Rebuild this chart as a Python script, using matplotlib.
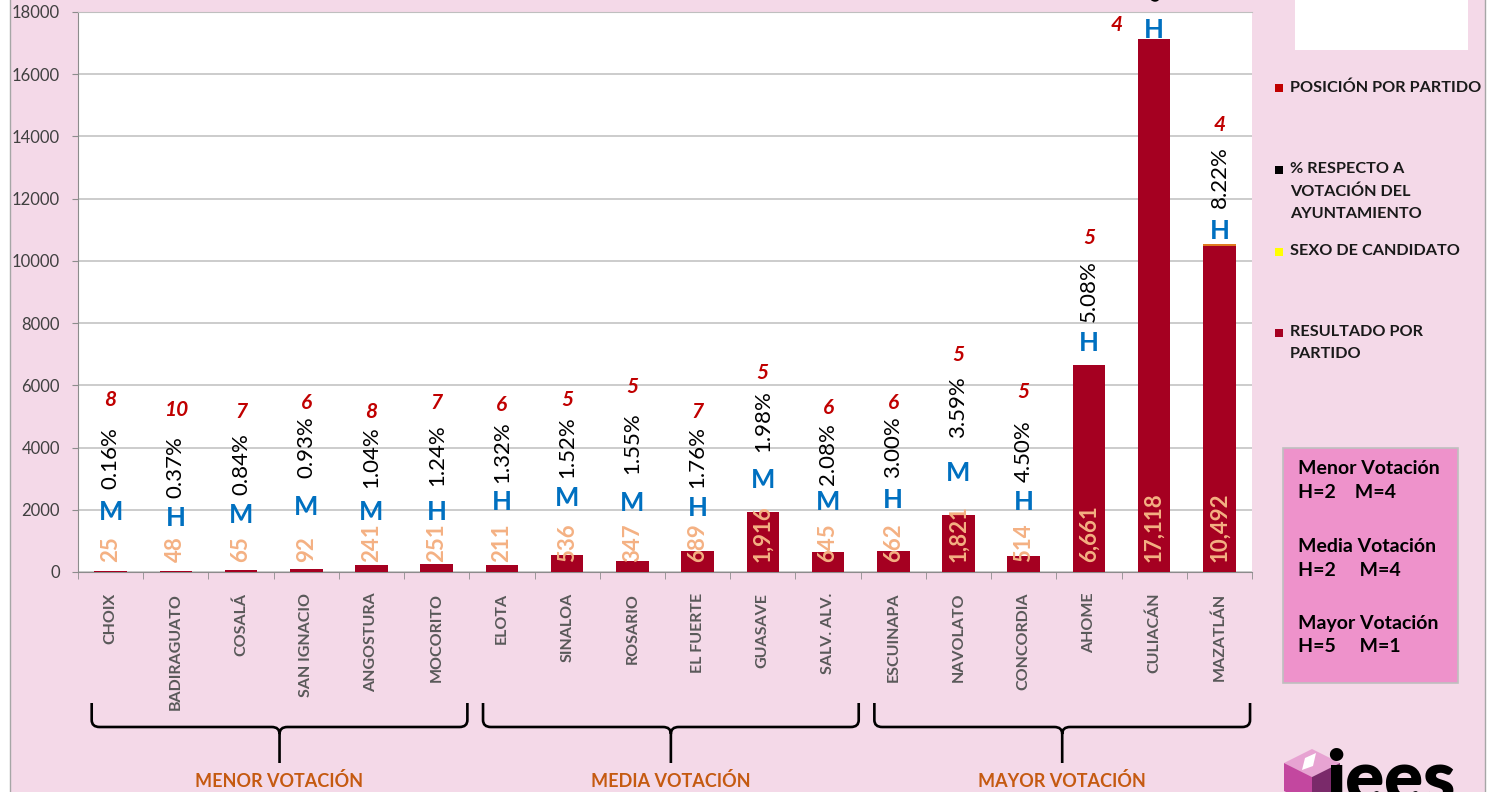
import matplotlib
matplotlib.use("Agg")
import matplotlib.pyplot as plt
from matplotlib.patches import Rectangle, Polygon, PathPatch
from matplotlib.path import Path
import matplotlib.transforms as mtransforms

plt.rcParams['font.family'] = ['Lato', 'DejaVu Sans']

# ---------------- data ----------------
municipios = ["CHOIX", "BADIRAGUATO", "COSALÁ", "SAN IGNACIO", "ANGOSTURA", "MOCORITO",
              "ELOTA", "SINALOA", "ROSARIO", "EL FUERTE", "GUASAVE", "SALV. ALV.",
              "ESCUINAPA", "NAVOLATO", "CONCORDIA", "AHOME", "CULIACÁN", "MAZATLÁN"]
resultado = [25, 48, 65, 92, 241, 251, 211, 536, 347, 689, 1916, 645,
             662, 1821, 514, 6661, 17118, 10492]
porcentaje = ["0.16%", "0.37%", "0.84%", "0.93%", "1.04%", "1.24%",
              "1.32%", "1.52%", "1.55%", "1.76%", "1.98%", "2.08%",
              "3.00%", "3.59%", "4.50%", "5.08%", "6.35%", "8.22%"]
sexo = ["M", "H", "M", "M", "M", "H",
        "H", "M", "M", "H", "M", "M",
        "H", "M", "H", "H", "H", "H"]
posicion = [8, 10, 7, 6, 8, 7, 6, 5, 5, 7, 5, 6, 6, 5, 5, 5, 4, 4]
sexo_segmento = [0, 0, 0, 0, 0, 0, 0, 0, 0, 0, 0, 0, 0, 0, 0, 0, 0, 60]

grupos = ["MENOR VOTACIÓN", "MEDIA VOTACIÓN", "MAYOR VOTACIÓN"]
grupo_inicio = [0, 6, 12]
grupo_fin = [5, 11, 17]

resumen = ["Menor Votación", "H=2    M=4", "Media Votación", "H=2     M=4",
           "Mayor Votación", "H=5     M=1"]

leyenda = ["POSICIÓN POR PARTIDO", "% RESPECTO A\nVOTACIÓN DEL\nAYUNTAMIENTO",
           "SEXO DE CANDIDATO", "RESULTADO POR\nPARTIDO"]

# label heights (value units) for the stacked-label layers, as in the original
sexo_label_y = [1930, 1740, 1830, 2090, 1930, 1930, 2250, 2380, 2220, 2060, 2960, 2250,
                2310, 3180, 2250, 7360, 17420, 10960]
pct_label_y = [3660, 3380, 3470, 4020, 3700, 3760, 3860, 4020, 4150, 3700, 4850, 3790,
               4020, 5300, 3890, 9030, 19350, 12700]
pos_label_y = [5530, 5210, 5140, 5430, 5140, 5430, 5370, 5530, 5950, 5140, 6400, 5270,
               5430, 6980, 5790, 10740, 17580, 14370]

# ---------------- colours ----------------
BG = "#F4D9E8"
BAR = "#A50021"
W, H = 1493, 792

fig = plt.figure(figsize=(W / 100, H / 100), dpi=100, facecolor="white")

# pink chart area with border
fig.patches.append(Rectangle((10 / W, -0.01), (1485 - 10) / W, 1.02, transform=fig.transFigure,
                             facecolor=BG, edgecolor="#A6A6A6", linewidth=1.0, zorder=-10))

ax = fig.add_axes([78 / W, (H - 572) / H, (1252 - 78) / W, (572 - 12) / H])
ax.set_facecolor("white")
ax.set_zorder(1)

x = list(range(len(municipios)))
ax.bar(x, resultado, width=0.5, color=BAR, zorder=3)
ax.bar(x, sexo_segmento, width=0.5, bottom=resultado, color="#E07A1F", zorder=3)

ax.set_xlim(-0.5, 17.5)
ax.set_ylim(0, 18000)
ax.set_yticks(range(0, 18001, 2000))
ax.yaxis.grid(True, color="#BFBFBF", linewidth=1.1, zorder=0)
ax.set_axisbelow(True)
ax.spines["right"].set_visible(False)
ax.spines["top"].set_color("#BFBFBF")
ax.spines["left"].set_color("#8C8C8C")
ax.spines["bottom"].set_color("#8C8C8C")
ax.tick_params(axis="y", length=4, color="#8C8C8C", pad=9, labelsize=12, labelcolor="#404040")

ax.set_xticks(x)
ax.set_xticklabels(municipios, rotation=90, fontsize=11.5, fontweight="bold", color="#595959",
                   va="top")
ax.tick_params(axis="x", which="major", length=0, pad=15)
ax.set_xticks([i - 0.5 for i in range(len(municipios) + 1)], minor=True)
ax.tick_params(axis="x", which="minor", length=5, color="#8C8C8C")

for i in x:
    ax.text(i, 330, f"{resultado[i]:,}", rotation=90, ha="center", va="bottom",
            fontsize=16, fontweight="bold", color="#F4B183", zorder=5)
    ax.text(i, sexo_label_y[i], sexo[i], ha="center", va="center", fontsize=18.5,
            fontweight="bold", color="#0070C0", zorder=5)
    ax.text(i, pct_label_y[i], porcentaje[i], rotation=90, ha="center", va="center",
            fontsize=16, color="black", zorder=5, clip_on=False)
    dx = -0.57 if municipios[i] == "CULIACÁN" else 0
    ax.text(i + dx, pos_label_y[i], str(posicion[i]), ha="center", va="center", fontsize=15,
            fontweight="bold", fontstyle="italic", color="#C00000", zorder=5, clip_on=False)

# ---------------- braces ----------------
def fy(py):
    return 1 - py / H

trans = mtransforms.blended_transform_factory(ax.transData, fig.transFigure)
y_top, y_mid, y_bot = 703, 727, 763
rx, ry = 0.12, 7
for g, a, b in zip(grupos, grupo_inicio, grupo_fin):
    xl = a - 0.29
    xr = b + 0.47
    xt = (xl + xr) / 2
    verts = [(xl, fy(y_top)), (xl, fy(y_mid - ry)), (xl, fy(y_mid)), (xl + rx, fy(y_mid)),
             (xt - rx, fy(y_mid)), (xt, fy(y_mid)), (xt, fy(y_mid + ry)), (xt, fy(y_bot)),
             (xr, fy(y_top)), (xr, fy(y_mid - ry)), (xr, fy(y_mid)), (xr - rx, fy(y_mid)),
             (xt + rx, fy(y_mid)), (xt, fy(y_mid)), (xt, fy(y_mid + ry))]
    codes = [Path.MOVETO, Path.LINETO, Path.CURVE3, Path.CURVE3,
             Path.LINETO, Path.CURVE3, Path.CURVE3, Path.LINETO,
             Path.MOVETO, Path.LINETO, Path.CURVE3, Path.CURVE3,
             Path.LINETO, Path.CURVE3, Path.CURVE3]
    pp = PathPatch(Path(verts, codes), transform=trans, facecolor="none",
                   edgecolor="black", linewidth=1.9, clip_on=False)
    ax.add_artist(pp)
    ax.text(xt, fy(781), g, transform=trans, ha="center", va="center", fontsize=13,
            fontweight="bold", color="#C55A11", clip_on=False)

# ---------------- legend ----------------
fig.patches.append(Rectangle((1295 / W, fy(50)), (1468 - 1295) / W, 50 / H,
                             transform=fig.transFigure, facecolor="white", edgecolor="none"))
leg_colors = ["#C00000", "black", "#FFFF00", BAR]
leg_y = [88, 170, 252, 333]
for txt, c, py in zip(leyenda, leg_colors, leg_y):
    fig.patches.append(Rectangle((1275 / W, fy(py + 4)), 8 / W, 8 / H, transform=fig.transFigure,
                                 facecolor=c, edgecolor="none"))
    fig.text(1290 / W, fy(py - 8), txt, ha="left", va="top", fontsize=11.7, fontweight="bold",
             color="#1A1A1A", linespacing=1.75)

# ---------------- summary box ----------------
fig.patches.append(Rectangle((1283 / W, fy(683)), (1458 - 1283) / W, (683 - 448) / H,
                             transform=fig.transFigure, facecolor="#EE92CB",
                             edgecolor="#BFBFBF", linewidth=1.2))
for txt, py in zip(resumen, [469, 492, 547, 570, 624, 647]):
    fig.text(1298 / W, fy(py), txt, ha="left", va="center", fontsize=14, fontweight="bold",
             color="black")

# ---------------- logo ----------------
cx, cy = 1312, 777
top = (cx, cy - 28); ul = (cx - 28, cy - 14); ur = (cx + 28, cy - 14)
c0 = (cx, cy); ll = (cx - 28, cy + 14); lr = (cx + 28, cy + 14); bt = (cx, cy + 28)
def P(pts):
    return [(px / W, fy(py)) for px, py in pts]
for pts, col in [([top, ur, c0, ul], "#E7A3D2"), ([ul, c0, bt, ll], "#C3479F"),
                 ([c0, ur, lr, bt], "#7A2A6A")]:
    fig.patches.append(Polygon(P(pts), closed=True, transform=fig.transFigure,
                               facecolor=col, edgecolor="none"))
fig.patches.append(Polygon(P([(1305, 758), (1316, 753), (1313, 766), (1302, 770)]), closed=True,
                           transform=fig.transFigure, facecolor="white", edgecolor="none"))
fig.text(1326 / W, fy(802), "iees", ha="left", va="baseline", fontsize=52, fontweight="heavy",
         color="black")

fig.savefig("out.png", dpi=100, facecolor="white")
